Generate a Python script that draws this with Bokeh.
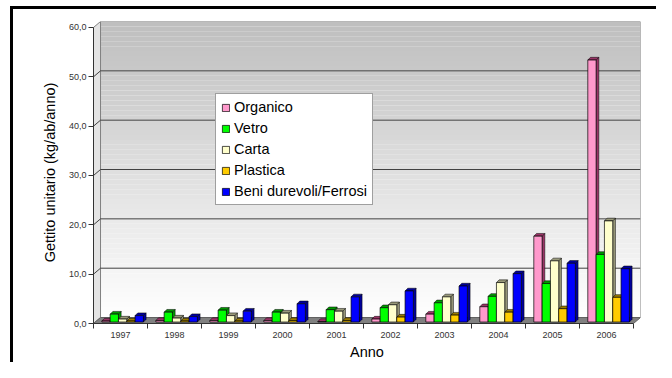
import numpy as np
from bokeh.plotting import figure
from bokeh.models import FixedTicker, Legend, LegendItem, ColumnDataSource, Range1d
from bokeh.embed import file_html
from bokeh.resources import INLINE

years = ["1997", "1998", "1999", "2000", "2001", "2002", "2003", "2004", "2005", "2006"]
organico = [0.2, 0.3, 0.3, 0.3, 0.1, 0.6, 1.6, 3.1, 17.4, 53.1]
vetro = [1.6, 2.0, 2.4, 2.0, 2.5, 2.9, 3.9, 5.2, 7.8, 13.7]
carta = [0.6, 0.8, 1.3, 1.8, 2.2, 3.5, 5.1, 8.0, 12.4, 20.5]
plastica = [0.2, 0.2, 0.2, 0.3, 0.3, 1.0, 1.4, 2.0, 2.7, 5.0]
beni = [1.3, 1.1, 2.2, 3.7, 5.1, 6.3, 7.3, 9.8, 11.9, 10.8]
series_names = ["Organico", "Vetro", "Carta", "Plastica", "Beni durevoli/Ferrosi"]
series_values = [organico, vetro, carta, plastica, beni]
front_colors = ["#FF99CC", "#00FF00", "#FFFFCC", "#FFCC00", "#0000FF"]
side_colors = ["#993366", "#009900", "#99997a", "#997a00", "#000099"]
y_ticks = [0, 10, 20, 30, 40, 50, 60]

FONT = "Liberation Sans"
n = len(years)
WDX, WDY = 0.13, 1.21      # wall depth (data units)
BDX, BDY = 0.05, 0.55      # bar depth
BW = 0.154                 # bar width
BASE = 0.3

p = figure(width=656, height=362, output_backend="svg", toolbar_location=None,
           x_range=Range1d(0, n + WDX), y_range=Range1d(0, 60 + WDY),
           min_border_left=93, min_border_right=16, min_border_top=21, min_border_bottom=38)
p.styles = {"background": "linear-gradient(#000,#000) 10px 6px / 3px 100% no-repeat, "
                          "linear-gradient(#000,#000) 10px 6px / 100% 3px no-repeat, #ffffff"}
p.outline_line_color = None
p.grid.visible = False
p.background_fill_color = "white"
p.border_fill_color = "white"
p.border_fill_alpha = 0

# back wall gradient
edges = np.linspace(0, 60, 61)
cols = []
for v in edges[:-1]:
    c = int(round(255 - 65 * ((v + 0.5) / 60.0)))
    cols.append("#%02x%02x%02x" % (c, c, c))
p.quad(left=WDX, right=n + WDX, bottom=edges[:-1] + WDY, top=edges[1:] + WDY,
       fill_color=cols, line_color=None)
# left side wall
p.patch([0, WDX, WDX, 0], [0, WDY, 60 + WDY, 60], fill_color="#e4e4e4", line_color="#808080", line_width=1)
# floor
p.patch([0, n, n + WDX, WDX], [0, 0, WDY, WDY], fill_color="#808080", line_color="#606060", line_width=1)
# wall edges
p.line([WDX, n + WDX, n + WDX], [60 + WDY, 60 + WDY, WDY], line_color="#808080", line_width=1)
# gridlines
for v in y_ticks[1:-1]:
    p.line([0, WDX, n + WDX], [v, v + WDY, v + WDY], line_color="#404040", line_width=1)

# bars: sides, tops, fronts
side_xs, side_ys, side_c = [], [], []
top_xs, top_ys = [], []
for k, vals in enumerate(series_values):
    for i, v in enumerate(vals):
        x0 = i + (k + 1) * BW
        x1 = x0 + BW
        b = BASE
        t = BASE + v
        side_xs.append([x1, x1 + BDX, x1 + BDX, x1])
        side_ys.append([b, b + BDY, t + BDY, t])
        top_xs.append([x0, x1, x1 + BDX, x0 + BDX])
        top_ys.append([t, t, t + BDY, t + BDY])
        side_c.append(side_colors[k])
p.patches(side_xs, side_ys, fill_color=side_c, line_color="#000000", line_width=0.5)
p.patches(top_xs, top_ys, fill_color=side_c, line_color="#000000", line_width=0.5)

items = []
for k, vals in enumerate(series_values):
    xs = [i + (k + 1) * BW + BW / 2 for i in range(n)]
    src = ColumnDataSource(dict(x=xs, top=[BASE + v for v in vals], bottom=[BASE] * n))
    r = p.vbar(x="x", top="top", bottom="bottom", width=BW, source=src,
               fill_color=front_colors[k], line_color="#000000", line_width=0.7)
    items.append(LegendItem(label=series_names[k], renderers=[r]))

legend = Legend(items=items, location=(122, 118))
legend.label_text_font = FONT
legend.label_text_font_size = "14.5px"
legend.label_text_color = "#000000"
legend.glyph_width = 9
legend.glyph_height = 9
legend.label_height = 16
legend.label_standoff = 4
legend.spacing = 5
legend.padding = 5
legend.border_line_color = "#404040"
legend.border_line_width = 1
legend.background_fill_color = "white"
legend.background_fill_alpha = 1
p.add_layout(legend, "center")

# axes
ya = p.yaxis[0]
ya.ticker = FixedTicker(ticks=y_ticks)
ya.major_label_overrides = {t: ("%.1f" % t).replace(".", ",") for t in y_ticks}
ya.bounds = (0, 60)
ya.axis_label = "Gettito unitario (kg/ab/anno)"
ya.axis_label_text_font = FONT
ya.axis_label_text_font_size = "14.5px"
ya.axis_label_text_font_style = "normal"
ya.axis_label_text_color = "#000000"
ya.axis_label_standoff = 8
ya.major_label_text_font = FONT
ya.major_label_text_font_size = "9px"
ya.major_label_text_color = "#333333"
ya.major_tick_out = 5
ya.major_tick_in = 0
ya.minor_tick_out = 0
ya.minor_tick_in = 0
ya.axis_line_color = "#333333"
ya.major_tick_line_color = "#333333"
ya.major_label_standoff = 2

xa = p.xaxis[0]
xa.ticker = FixedTicker(ticks=[i + 0.5 for i in range(n)], minor_ticks=list(range(n + 1)))
xa.major_label_overrides = {i + 0.5: years[i] for i in range(n)}
xa.bounds = (0, n)
xa.axis_label = "Anno"
xa.axis_label_text_font = FONT
xa.axis_label_text_font_size = "14.5px"
xa.axis_label_text_font_style = "normal"
xa.axis_label_text_color = "#000000"
xa.axis_label_standoff = 3
xa.major_label_text_font = FONT
xa.major_label_text_font_size = "9px"
xa.major_label_text_color = "#333333"
xa.major_tick_out = 0
xa.major_tick_in = 0
xa.minor_tick_out = 5
xa.minor_tick_in = 0
xa.minor_tick_line_color = "#333333"
xa.axis_line_color = "#333333"
xa.major_label_standoff = 3

open("out.html", "w").write(file_html(p, INLINE))
